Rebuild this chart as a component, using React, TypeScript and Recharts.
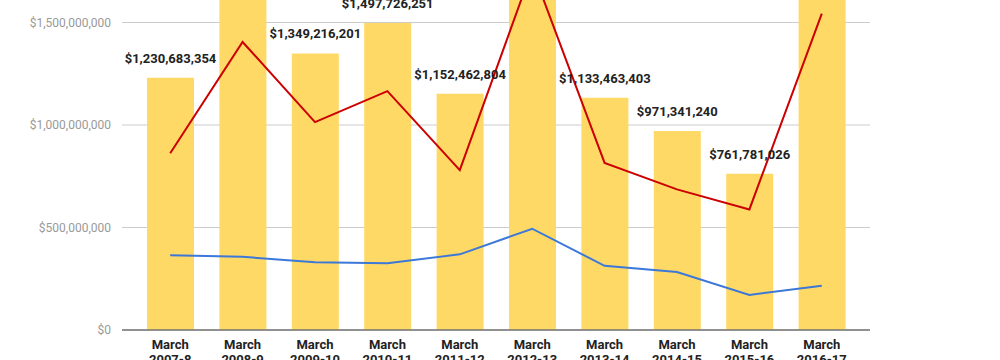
import React from 'react';
import { ComposedChart, Bar, Line, XAxis, YAxis, CartesianGrid, LabelList } from 'recharts';

const monthLabel = 'March';
const years = ['2007-8', '2008-9', '2009-10', '2010-11', '2011-12', '2012-13', '2013-14', '2014-15', '2015-16', '2016-17'];
const totals = [1230683354, 1732514870, 1349216201, 1497726251, 1152462804, 1846392115, 1133463403, 971341240, 761781026, 1689205437];
const redValues = [862e6, 1405e6, 1014e6, 1165e6, 780e6, 1759e6, 815e6, 686e6, 588e6, 1543e6];
const blueValues = [365e6, 357e6, 330e6, 326e6, 369e6, 494e6, 313e6, 283e6, 171e6, 216e6];
const yTicks = [0, 500e6, 1000e6, 1500e6, 2000e6];

const data = years.map((y, i) => ({
  year: y,
  total: totals[i],
  red: redValues[i],
  blue: blueValues[i],
}));

const money = (v: number) => '$' + Math.round(v).toLocaleString('en-US');

const BarLabel = (props: any) => {
  const { x, y, width, value } = props;
  return (
    <text
      x={Number(x) + Number(width) / 2}
      y={Number(y) - 15}
      textAnchor="middle"
      fontFamily="Roboto"
      fontWeight="bold"
      fontSize={13}
      fill="#222"
    >
      {money(Number(value))}
    </text>
  );
};

const XTick = (props: any) => {
  const { x, y, payload } = props;
  return (
    <g>
      <text x={x} y={y + 19} textAnchor="middle" fontFamily="Roboto" fontWeight="bold" fontSize={13} fill="#222">
        {monthLabel}
      </text>
      <text x={x} y={y + 34} textAnchor="middle" fontFamily="Roboto" fontWeight="bold" fontSize={13} fill="#222">
        {payload.value}
      </text>
    </g>
  );
};

export default function App() {
  return (
    <div style={{ position: 'absolute', left: 0, top: 0, width: 1000, height: 360, overflow: 'hidden', background: '#fff' }}>
      <div style={{ position: 'absolute', left: 0, top: -100 }}>
        <ComposedChart
          width={1000}
          height={470}
          data={data}
          margin={{ top: 20, right: 130, bottom: 0, left: 0 }}
          style={{ fontFamily: 'Roboto' }}
        >
          <CartesianGrid vertical={false} stroke="#cccccc" />
          <XAxis
            dataKey="year"
            height={40}
            padding={{ left: 12, right: 12 }}
            axisLine={{ stroke: '#757575', strokeWidth: 1.5 }}
            tickLine={false}
            tickSize={0}
            tickMargin={0}
            interval={0}
            tick={<XTick />}
          />
          <YAxis
            width={122}
            domain={[0, 2000e6]}
            ticks={yTicks}
            allowDataOverflow
            axisLine={false}
            tickLine={false}
            tickSize={0}
            tickMargin={11}
            tickFormatter={money}
            tick={{ fill: '#999999', fontSize: 12, fontFamily: 'Roboto' }}
          />
          <Bar dataKey="total" fill="#ffd966" barSize={47} isAnimationActive={false}>
            <LabelList dataKey="total" content={<BarLabel />} />
          </Bar>
          <Line type="linear" dataKey="red" stroke="#cc0000" strokeWidth={2} dot={false} activeDot={false} isAnimationActive={false} />
          <Line type="linear" dataKey="blue" stroke="#3c78d8" strokeWidth={2} dot={false} activeDot={false} isAnimationActive={false} />
        </ComposedChart>
      </div>
    </div>
  );
}
